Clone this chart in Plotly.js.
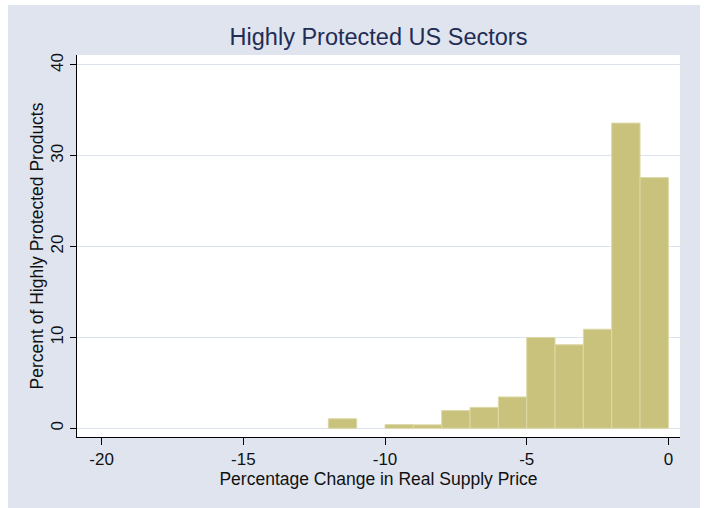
<!DOCTYPE html>
<html>
<head>
<meta charset="utf-8">
<script src="https://cdn.plot.ly/plotly-3.0.1.min.js"></script>
<style>html,body{margin:0;padding:0;background:#fff;}#chart{width:704px;height:508px;}</style>
</head>
<body>
<div id="chart"></div>
<script>
// Histogram bins (left edges, width 1) and percent of products
var binLeft = [-12, -11, -10, -9, -8, -7, -6, -5, -4, -3, -2, -1];
var percent = [1.05, 0, 0.4, 0.38, 1.95, 2.3, 3.45, 10.0, 9.2, 10.9, 33.6, 27.6];
var xTicks = [-20, -15, -10, -5, 0];
var yTicks = [0, 10, 20, 30, 40];

var titleText = "Highly Protected US Sectors";
var xTitle = "Percentage Change in Real Supply Price";
var yTitle = "Percent of Highly Protected Products";

var trace = {
  type: "bar",
  x: binLeft,
  y: percent,
  width: binLeft.map(function(){return 1;}),
  offset: 0,
  marker: {
    color: "#c9c27d",
    line: {color: "#ddd8a6", width: percent.map(function(v){return v > 0 ? 1 : 0;})}
  },
  hoverinfo: "x+y"
};

var tickFont = {family: "Liberation Sans, Arial, sans-serif", size: 17, color: "#111"};
var axTitleFont = {family: "Liberation Sans, Arial, sans-serif", size: 17.5, color: "#111"};

var layout = {
  width: 704, height: 508,
  margin: {l: 77, r: 24, t: 55, b: 71, pad: 0},
  paper_bgcolor: "#ffffff",
  plot_bgcolor: "#ffffff",
  showlegend: false,
  bargap: 0,
  title: {
    text: titleText,
    font: {family: "Liberation Sans, Arial, sans-serif", size: 23.5, color: "#1f2d55"},
    x: 0.5, xref: "paper", xanchor: "center",
    y: 0.927, yref: "container", yanchor: "middle"
  },
  xaxis: {
    range: [-20.87, 0.41],
    tickvals: xTicks,
    ticktext: xTicks.map(String),
    ticks: "outside", ticklen: 7, tickwidth: 1, tickcolor: "#000",
    showline: true, linecolor: "#000", linewidth: 1,
    showgrid: false, zeroline: false,
    tickfont: tickFont,
    title: {text: xTitle, font: axTitleFont, standoff: 2},
    automargin: false
  },
  yaxis: {
    range: [-0.96, 41.1],
    tickvals: yTicks,
    ticktext: yTicks.map(String),
    tickangle: -90,
    ticks: "outside", ticklen: 6, tickwidth: 1, tickcolor: "#000",
    showline: true, linecolor: "#000", linewidth: 1,
    showgrid: true, gridcolor: "#dde3ee", gridwidth: 1,
    zeroline: false,
    tickfont: tickFont,
    title: {text: yTitle, font: axTitleFont, standoff: 0},
    automargin: false
  },
  shapes: [
    {type: "rect", xref: "paper", yref: "paper", x0: -0.1144, x1: 1.0332, y0: -0.186, y1: 1.131,
     fillcolor: "#dfe4ef", line: {width: 0}, layer: "below"},
    {type: "rect", xref: "paper", yref: "paper", x0: 0, x1: 1, y0: 0, y1: 1,
     fillcolor: "#ffffff", line: {width: 0}, layer: "below"}
  ]
};

Plotly.newPlot("chart", [trace], layout, {displayModeBar: false, staticPlot: true});
</script>
</body>
</html>
